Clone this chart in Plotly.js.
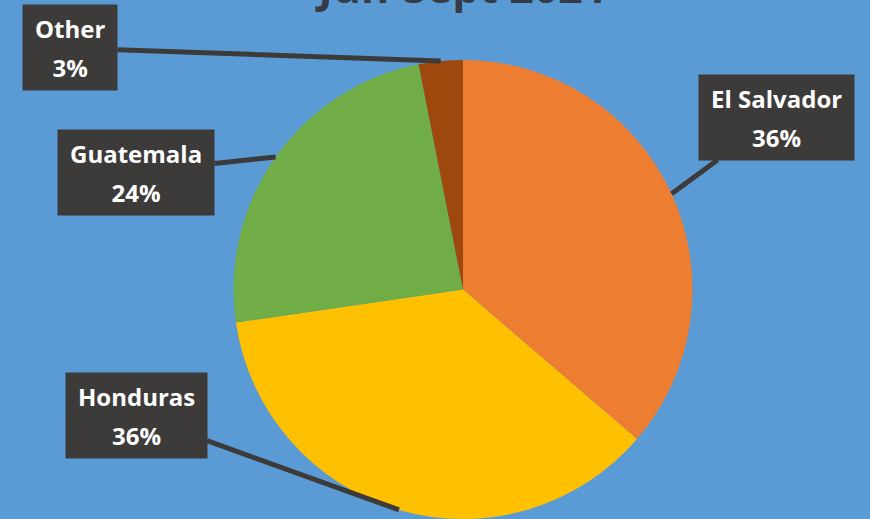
<!DOCTYPE html>
<html><head><meta charset="utf-8">
<script src="https://cdn.plot.ly/plotly-3.0.1.min.js"></script>
<style>html,body{margin:0;padding:0;background:#5B9BD5;}#chart{width:870px;height:519px;}</style>
</head><body><div id="chart"></div>
<script>
// ---- data ----
const titleText = 'Jun-Sept 2021';
const labels = ['El Salvador', 'Honduras', 'Guatemala', 'Other'];
const values = [36.3, 36.4, 24.2, 3.1];
const colors = ['#ED7D31', '#FFC000', '#70AD47', '#9E480E'];

// ---- layout / style ----
const W = 870, H = 519;
const pieDomainX = [0.0644, 1];
const pieDomainY = [0, 0.8844];
const boxCenters = [[776, 117], [136, 415], [136, 172], [70, 48]]; // label box centers (px from top-left)
const boxColor = '#3d3a3a';

const total = values.reduce((a, b) => a + b, 0);
const cx = (pieDomainX[0] + pieDomainX[1]) / 2 * W;
const cy = H * (1 - (pieDomainY[0] + pieDomainY[1]) / 2);
const R = Math.min(W * (pieDomainX[1] - pieDomainX[0]), H * (pieDomainY[1] - pieDomainY[0])) / 2;

let cum = 0;
const annotations = labels.map((lab, i) => {
  const mid = (cum + values[i] / 2) / total * 2 * Math.PI;
  cum += values[i];
  const hx = cx + R * Math.sin(mid);
  const hy = cy - R * Math.cos(mid);
  const pct = Math.round(values[i] / total * 100) + '%';
  return {
    xref: 'paper', yref: 'paper', x: hx / W, y: 1 - hy / H,
    axref: 'pixel', ayref: 'pixel',
    ax: boxCenters[i][0] - hx, ay: boxCenters[i][1] - hy,
    showarrow: true, arrowhead: 0, arrowwidth: 5, arrowcolor: boxColor, standoff: 0,
    text: '<span style="font-size:24px">' + lab + '</span><br><span style="font-size:24px">' + pct + '</span>',
    font: {family: 'Open Sans', size: 30, color: '#ffffff', weight: 'bold'},
    bgcolor: boxColor, borderpad: 12, height: 61, align: 'center', valign: 'middle'
  };
});

const trace = {
  type: 'pie',
  labels: labels,
  values: values,
  marker: {colors: colors, line: {width: 0}},
  sort: false,
  direction: 'clockwise',
  rotation: 0,
  textinfo: 'none',
  hoverinfo: 'none',
  domain: {x: pieDomainX, y: pieDomainY}
};

const layout = {
  width: W, height: H,
  margin: {l: 0, r: 0, t: 0, b: 0},
  paper_bgcolor: '#5B9BD5',
  plot_bgcolor: '#5B9BD5',
  showlegend: false,
  title: {
    text: titleText,
    font: {family: 'Open Sans', size: 43, color: '#363c46', weight: 'bold'},
    xref: 'container', yref: 'container',
    x: cx / W, xanchor: 'center',
    y: 1 - 2.5 / H, yanchor: 'bottom'
  },
  annotations: annotations
};

Plotly.newPlot('chart', [trace], layout, {staticPlot: true, displayModeBar: false});
</script>
</body></html>
